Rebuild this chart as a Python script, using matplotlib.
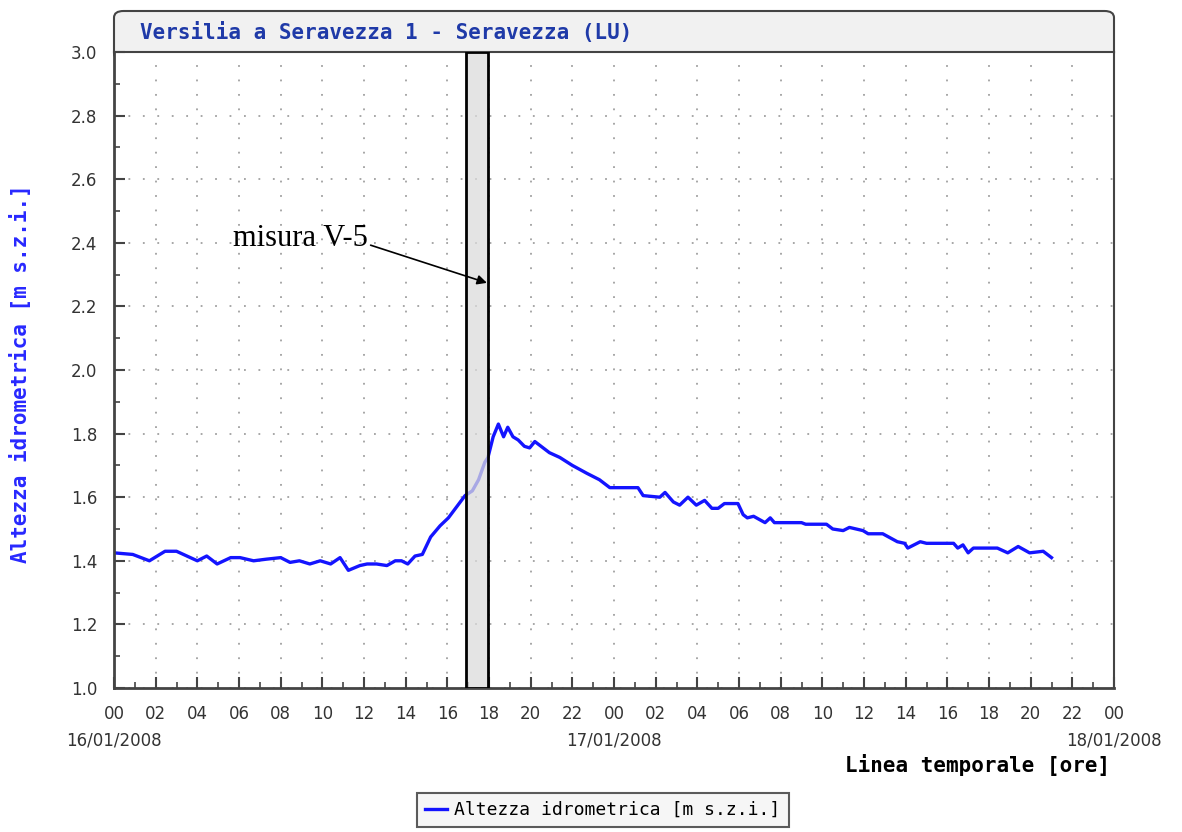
import matplotlib
matplotlib.use("Agg")
import matplotlib.pyplot as plt
import matplotlib.patches as mpatches
from matplotlib.lines import Line2D
from matplotlib.ticker import MultipleLocator
import numpy as np

# ore dal 16/01/2008 00:00, altezza idrometrica [m]
ore = [0.0, 0.9, 1.7, 2.45, 3.0, 3.5, 4.0, 4.45, 4.95, 5.6, 6.05, 6.7, 7.3, 8.0,
       8.45, 8.9, 9.4, 9.9, 10.4, 10.85, 11.25, 11.8, 12.15, 12.6, 13.1, 13.5,
       13.8, 14.1, 14.45, 14.8, 15.2, 15.65, 16.05, 16.45, 16.85, 17.2, 17.5,
       17.8, 17.95, 18.2, 18.45, 18.7, 18.9, 19.15, 19.4, 19.7, 19.95, 20.2,
       20.6, 20.9, 21.4, 22.0, 22.7, 23.3, 23.8, 24.45, 25.15, 25.4, 26.2,
       26.45, 26.85, 27.15, 27.55, 27.95, 28.35, 28.7, 29.0, 29.3, 29.95, 30.2,
       30.4, 30.7, 31.25, 31.5, 31.7, 33.0, 33.2, 34.2, 34.5, 35.0, 35.3, 35.95,
       36.2, 36.9, 37.6, 37.95, 38.1, 38.7, 39.0, 40.3, 40.5, 40.75, 41.0,
       41.25, 42.4, 42.9, 43.4, 43.95, 44.6, 45.0]
livello = [1.425, 1.42, 1.40, 1.43, 1.43, 1.415, 1.40, 1.415, 1.39, 1.41, 1.41,
           1.40, 1.405, 1.41, 1.395, 1.40, 1.39, 1.40, 1.39, 1.41, 1.37, 1.385,
           1.39, 1.39, 1.385, 1.40, 1.40, 1.39, 1.415, 1.42, 1.475, 1.51, 1.535,
           1.57, 1.605, 1.62, 1.655, 1.71, 1.725, 1.79, 1.83, 1.79, 1.82, 1.79,
           1.78, 1.76, 1.755, 1.775, 1.755, 1.74, 1.725, 1.70, 1.675, 1.655,
           1.63, 1.63, 1.63, 1.605, 1.60, 1.615, 1.585, 1.575, 1.60, 1.575, 1.59,
           1.565, 1.565, 1.58, 1.58, 1.545, 1.535, 1.54, 1.52, 1.535, 1.52, 1.52,
           1.515, 1.515, 1.50, 1.495, 1.505, 1.495, 1.485, 1.485, 1.46, 1.455,
           1.44, 1.46, 1.455, 1.455, 1.44, 1.45, 1.425, 1.44, 1.44, 1.425,
           1.445, 1.425, 1.43, 1.41]

banda = (16.9, 17.95)          # misura V-5
date = ["16/01/2008", "17/01/2008", "18/01/2008"]
date_ore = [0, 24, 48]
x_ticks = list(range(0, 49, 2))
y_ticks = [1.0, 1.2, 1.4, 1.6, 1.8, 2.0, 2.2, 2.4, 2.6, 2.8, 3.0]

W, H = 1182, 832
fig = plt.figure(figsize=(W / 100, H / 100), dpi=100)
ax = fig.add_axes([114 / W, 1 - 688 / H, 1000 / W, 636 / H])

# riquadro del titolo
box = mpatches.FancyBboxPatch((114 / W, 1 - 60 / H), 1000 / W, 49 / H,
                              boxstyle="round,pad=0,rounding_size=0.008",
                              transform=fig.transFigure, facecolor="#f1f1f1",
                              edgecolor="#444444", lw=1.5, zorder=-1)
fig.add_artist(box)
fig.text(140 / W, 1 - 33 / H, "Versilia a Seravezza 1 - Seravezza (LU)",
         family="DejaVu Sans Mono", weight="bold", fontsize=15,
         color="#1f3aa8", ha="left", va="center")

ax.plot(ore, livello, color="#1414ff", lw=2.4, zorder=2)
ax.axvspan(banda[0], banda[1], facecolor=(0.86, 0.86, 0.86, 0.75),
           edgecolor="black", lw=2, zorder=3)

ax.set_xlim(0, 48)
ax.set_ylim(1.0, 3.0)
ax.set_xticks(x_ticks)
ax.set_xticklabels(["%02d" % (h % 24) for h in x_ticks])
ax.set_yticks(y_ticks)
ax.set_yticklabels(["%.1f" % v for v in y_ticks])
ax.xaxis.set_minor_locator(MultipleLocator(1))
ax.yaxis.set_minor_locator(MultipleLocator(0.1))
ax.tick_params(which="both", direction="in", colors="#444444", labelcolor="#333333",
               labelsize=12)
ax.tick_params(which="major", length=8, width=1.5, pad=12)
ax.tick_params(which="minor", length=4, width=1.2)
ax.grid(True, which="major", color="#a0a0a0", lw=1.3, linestyle=(0, (1, 7)))

for s in ["left", "bottom"]:
    ax.spines[s].set_linewidth(2)
    ax.spines[s].set_color("#444444")
for s in ["top", "right"]:
    ax.spines[s].set_linewidth(1.5)
    ax.spines[s].set_color("#444444")

for d, h in zip(date, date_ore):
    ax.text(h, -0.082, d, transform=ax.get_xaxis_transform(), ha="center",
            va="center", fontsize=12, color="#333333")

fig.text(1110 / W, 1 - 765 / H, "Linea temporale [ore]", family="DejaVu Sans Mono",
         weight="bold", fontsize=15, ha="right", va="center", color="black")
fig.text(20 / W, 1 - 374 / H, "Altezza idrometrica [m s.z.i.]", family="DejaVu Sans Mono",
         weight="bold", fontsize=15, rotation=90, ha="center", va="center",
         color="#2828ff")

ax.annotate("misura V-5", xy=(17.9, 2.274), xytext=(5.71, 2.39),
            family="Liberation Serif", fontsize=22, va="baseline",
            arrowprops=dict(arrowstyle="-|>", color="black", lw=1.2,
                            mutation_scale=14, shrinkA=0, shrinkB=0,
                            relpos=(1.0, 0.3)))

handle = Line2D([0], [0], color="#1414ff", lw=2.4)
leg = fig.legend([handle], ["Altezza idrometrica [m s.z.i.]"], loc="center",
                 bbox_to_anchor=(603 / W, 1 - 810 / H), fancybox=False, shadow=False,
                 handlelength=1.2, handletextpad=0.4, borderpad=0.45,
                 prop={"family": "DejaVu Sans Mono", "size": 13})
leg.get_frame().set_facecolor("#f4f4f4")
leg.get_frame().set_edgecolor("#333333")
leg.get_frame().set_linewidth(1.5)

fig.savefig("out.png", dpi=100)
